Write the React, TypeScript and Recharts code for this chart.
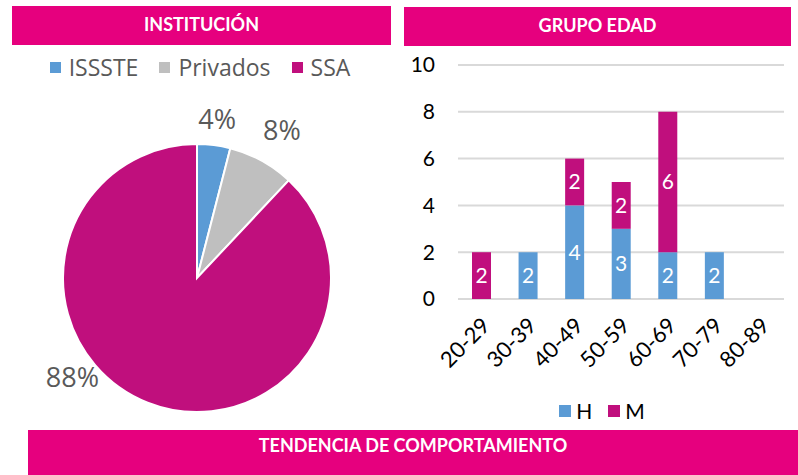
import React from 'react';
import { PieChart, Pie, Cell, BarChart, Bar, XAxis, YAxis, CartesianGrid, Legend, LabelList } from 'recharts';

const institutions = ['ISSSTE', 'Privados', 'SSA'];
const institutionValues = [1, 2, 22];
const institutionColors = ['#5B9BD5', '#BFBFBF', '#C00F7D'];

const ageGroups = ['20-29', '30-39', '40-49', '50-59', '60-69', '70-79', '80-89'];
const hValues = [0, 2, 4, 3, 2, 2, 0];
const mValues = [2, 0, 2, 2, 6, 0, 0];
const yTicks = [0, 2, 4, 6, 8, 10];

const pieData = institutions.map((name, i) => ({ name, value: institutionValues[i] }));
const barData = ageGroups.map((g, i) => ({ group: g, H: hValues[i], M: mValues[i] }));

const PINK = '#E6007E';
const BLUE = '#5B9BD5';
const MAGENTA = '#C00F7D';

const headerStyle: React.CSSProperties = {
  position: 'absolute',
  background: PINK,
  color: '#fff',
  fontFamily: 'Lato, sans-serif',
  fontWeight: 700,
  fontSize: 18,
  textAlign: 'center',
  boxSizing: 'border-box',
};

const RADIAN = Math.PI / 180;
const PieLabel = (props: any) => {
  const { cx, cy, midAngle, outerRadius, index, percent } = props;
  const offsets = [27, 37, 25];
  const shifts = [0, -1, -30];
  const a = (midAngle + shifts[index]) * RADIAN;
  const r = outerRadius + offsets[index];
  const x = cx + r * Math.cos(a);
  const y = cy - r * Math.sin(a);
  return (
    <text x={x} y={y} textAnchor="middle" dominantBaseline="central" fill="#595959"
      style={{ fontFamily: '"Open Sans", sans-serif', fontSize: 27 }}>
      {`${Math.round(percent * 100)}%`}
    </text>
  );
};

const PieLegend = (props: any) => {
  const { payload } = props;
  return (
    <div style={{ display: 'flex', justifyContent: 'center', alignItems: 'center', gap: 21, fontFamily: '"Open Sans", sans-serif', fontSize: 23, color: '#595959' }}>
      {(payload || []).map((p: any) => (
        <div key={p.value} style={{ display: 'flex', alignItems: 'center' }}>
          <span style={{ display: 'inline-block', width: 11, height: 11, background: p.color, marginRight: 8 }} />
          <span>{p.value}</span>
        </div>
      ))}
    </div>
  );
};

const BarLegend = (props: any) => {
  const { payload } = props;
  return (
    <div style={{ display: 'flex', justifyContent: 'center', alignItems: 'center', gap: 16, fontFamily: 'Lato, sans-serif', fontSize: 21, color: '#000', paddingLeft: 20 }}>
      {(payload || []).map((p: any) => (
        <div key={p.value} style={{ display: 'flex', alignItems: 'center' }}>
          <span style={{ display: 'inline-block', width: 12, height: 12, background: p.color, marginRight: 5 }} />
          <span>{p.value}</span>
        </div>
      ))}
    </div>
  );
};

const XTick = (props: any) => {
  const { x, y, payload } = props;
  const ax = x + 4;
  const ay = y + 22;
  return (
    <text x={ax} y={ay} transform={`rotate(-45 ${ax} ${ay})`} textAnchor="end" dominantBaseline="central"
      fill="#000" style={{ fontFamily: 'Lato, sans-serif', fontSize: 22 }}>
      {payload.value}
    </text>
  );
};

const hideZero = (v: any) => (v === 0 || v == null ? '' : v);

export default function App() {
  return (
    <div style={{ position: 'absolute', left: 0, top: 0, width: 798, height: 475, background: '#fff', overflow: 'hidden' }}>
      <div style={{ ...headerStyle, left: 12, top: 6, width: 379, height: 39, lineHeight: '36px' }}>INSTITUCIÓN</div>
      <div style={{ ...headerStyle, left: 404, top: 7, width: 387, height: 39, lineHeight: '36px' }}>GRUPO EDAD</div>
      <div style={{ ...headerStyle, left: 28, top: 430, width: 770, height: 45, lineHeight: '30px' }}>TENDENCIA DE COMPORTAMIENTO</div>

      <div style={{ position: 'absolute', left: 0, top: 0 }}>
        <PieChart width={400} height={428} margin={{ top: 0, right: 0, bottom: 0, left: 0 }}>
          <Pie data={pieData} dataKey="value" nameKey="name" cx={197} cy={278} outerRadius={134}
            startAngle={90} endAngle={-270} stroke="#fff" strokeWidth={2}
            label={PieLabel} labelLine={false} isAnimationActive={false}>
            {pieData.map((d, i) => (
              <Cell key={d.name} fill={institutionColors[i]} />
            ))}
          </Pie>
          <Legend content={PieLegend} verticalAlign="bottom" wrapperStyle={{ top: 51, bottom: 'auto', left: 0, width: 400 }} />
        </PieChart>
      </div>

      <div style={{ position: 'absolute', left: 400, top: 50 }}>
        <BarChart width={398} height={378} data={barData} margin={{ top: 15, right: 14, left: 0, bottom: 0 }}>
          <CartesianGrid vertical={false} stroke="#D9D9D9" strokeWidth={2} />
          <XAxis dataKey="group" axisLine={false} tickLine={false} tickSize={0} tickMargin={0} height={99} interval={0} tick={XTick} />
          <YAxis domain={[0, 10]} ticks={yTicks} axisLine={false} tickLine={false} tickSize={0} tickMargin={23} width={58}
            tick={{ fill: '#000', fontSize: 21, fontFamily: 'Lato, sans-serif' }} />
          <Legend height={30} verticalAlign="bottom" content={BarLegend} />
          <Bar dataKey="H" stackId="a" fill={BLUE} barSize={19} isAnimationActive={false}>
            <LabelList dataKey="H" position="center" formatter={hideZero} fill="#fff" style={{ fontSize: 21, fontFamily: 'Lato, sans-serif' }} />
          </Bar>
          <Bar dataKey="M" stackId="a" fill={MAGENTA} barSize={19} isAnimationActive={false}>
            <LabelList dataKey="M" position="center" formatter={hideZero} fill="#fff" style={{ fontSize: 21, fontFamily: 'Lato, sans-serif' }} />
          </Bar>
        </BarChart>
      </div>
    </div>
  );
}
